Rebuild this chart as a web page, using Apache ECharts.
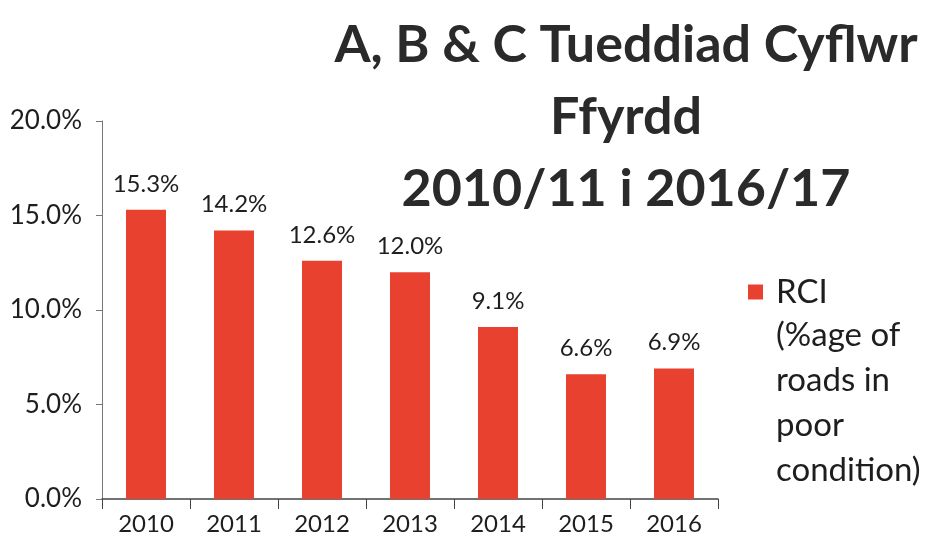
<!DOCTYPE html>
<html>
<head>
<meta charset="utf-8">
<script src="https://cdn.jsdelivr.net/npm/echarts@6/dist/echarts.min.js"></script>
<style>
  html, body { margin: 0; padding: 0; background: #fff; }
  #chart { width: 933px; height: 544px; }
</style>
</head>
<body>
<div id="chart"></div>
<script>
// data
var years = ["2010", "2011", "2012", "2013", "2014", "2015", "2016"];
var rci = [15.3, 14.2, 12.6, 12.0, 9.1, 6.6, 6.9];
var seriesName = "RCI (%age of roads in poor condition)";
var legendRest = "(%age of\nroads in\npoor\ncondition)";
var titleText = "A, B & C Tueddiad Cyflwr\nFfyrdd\n2010/11 i 2016/17";

var font = "Lato";
var myChart = echarts.init(document.getElementById("chart"));

var option = {
  animation: false,
  backgroundColor: "#fff",
  title: {
    text: titleText,
    left: 621,
    top: 4,
    textAlign: "center",
    textStyle: {
      fontFamily: font,
      fontWeight: "bold",
      fontSize: 52,
      lineHeight: 72,
      color: "#2a2a2a"
    }
  },
  legend: {
    orient: "vertical",
    left: 748,
    top: 274,
    padding: 0,
    icon: "rect",
    itemWidth: 15,
    itemHeight: 15,
    data: [seriesName],
    formatter: function () {
      return "RCI";
    },
    textStyle: {
      fontFamily: font,
      fontSize: 33,
      lineHeight: 36,
      color: "#1e1e1e",
      padding: [0, 0, 0, 8]
    }
  },
  // rest of the wrapped legend label, under "RCI"
  graphic: [
    {
      type: "text",
      left: 776,
      top: 313,
      style: {
        text: legendRest,
        fontFamily: font,
        fontSize: 33,
        lineHeight: 45,
        fill: "#1e1e1e"
      }
    }
  ],
  grid: {
    left: 102,
    right: 215,
    top: 121,
    bottom: 45
  },
  xAxis: {
    type: "category",
    data: years,
    axisLine: { lineStyle: { color: "#444", width: 1.5 } },
    axisTick: { show: true, length: 10, lineStyle: { color: "#444" } },
    axisLabel: {
      margin: 13,
      fontFamily: font,
      fontSize: 24,
      color: "#1e1e1e"
    }
  },
  yAxis: {
    type: "value",
    min: 0,
    max: 20,
    interval: 5,
    splitLine: { show: false },
    axisLine: { show: true, lineStyle: { color: "#777", width: 1 } },
    axisTick: { show: true, length: 6, lineStyle: { color: "#777" } },
    axisLabel: {
      margin: 20,
      fontFamily: font,
      fontSize: 26,
      color: "#1e1e1e",
      formatter: function (v) {
        return v.toFixed(1) + "%";
      }
    }
  },
  series: [
    {
      name: seriesName,
      type: "bar",
      data: rci,
      barWidth: 40,
      itemStyle: { color: "#e8412f" },
      label: {
        show: true,
        position: "top",
        distance: 14,
        fontFamily: font,
        fontSize: 24,
        color: "#1e1e1e",
        formatter: function (p) {
          return p.value.toFixed(1) + "%";
        }
      }
    }
  ]
};
myChart.setOption(option);
</script>
</body>
</html>
